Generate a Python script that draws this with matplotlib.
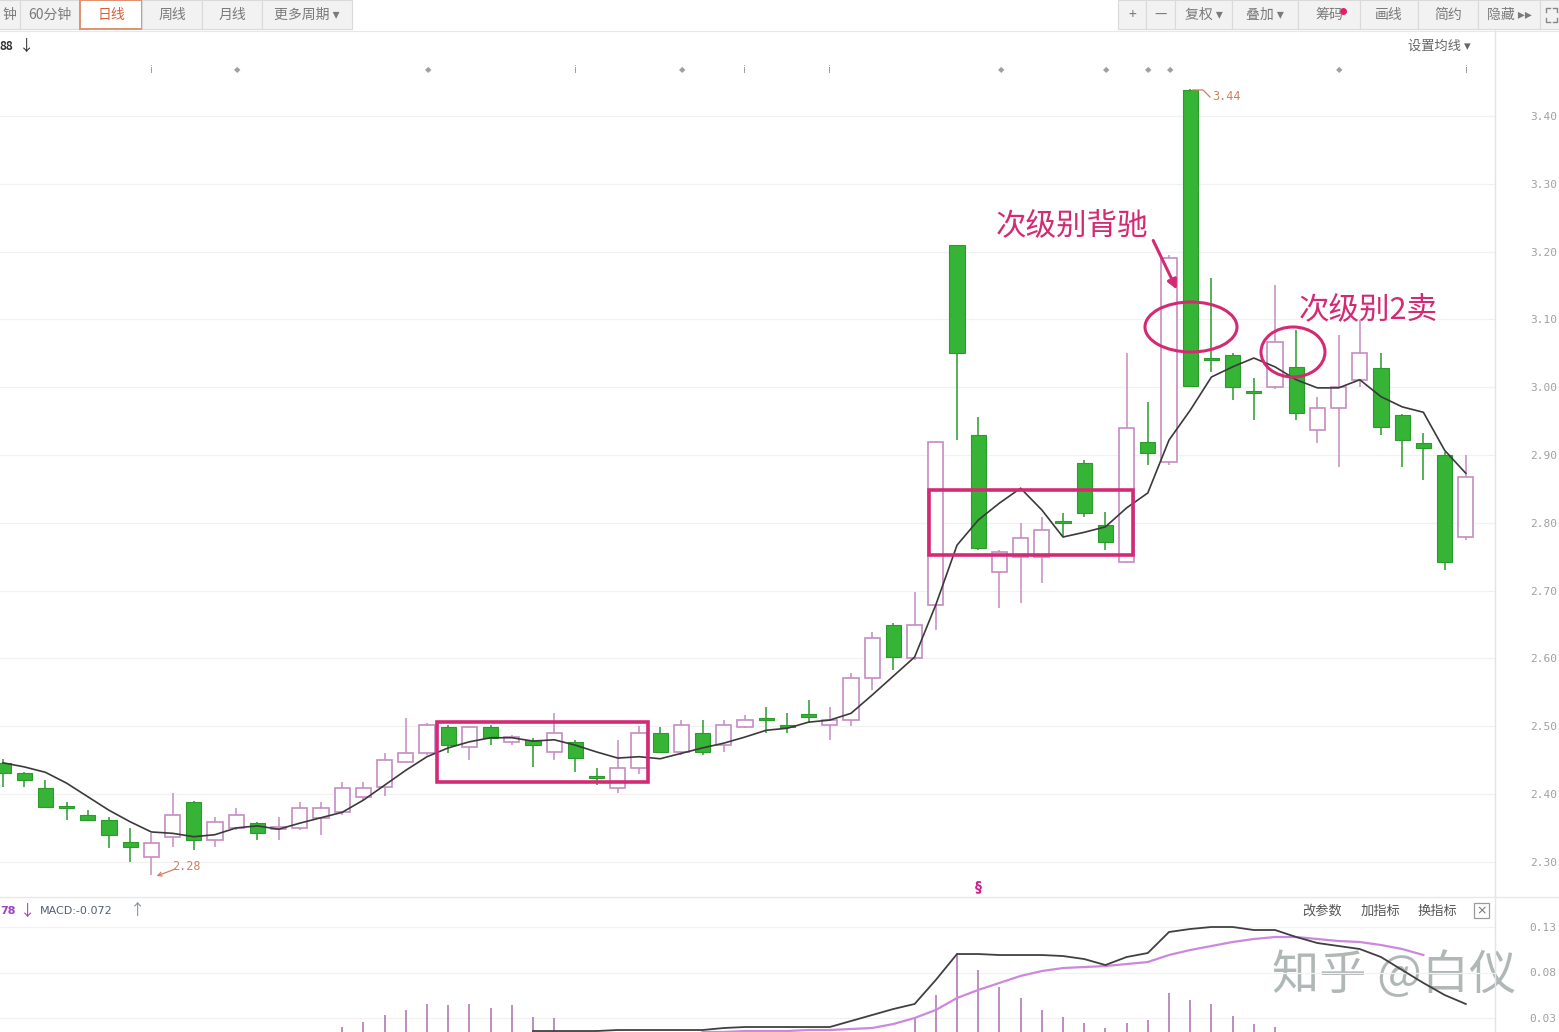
import matplotlib
matplotlib.use('Agg')
import matplotlib.pyplot as plt
from matplotlib.patches import Rectangle, Ellipse, FancyArrowPatch
import numpy as np

plt.rcParams['font.family'] = ['Noto Sans CJK SC', 'DejaVu Sans']

# ---------------- data ----------------
opens = [2.446, 2.431, 2.409, 2.381, 2.369, 2.362, 2.329, 2.307, 2.337, 2.388,
         2.332, 2.350, 2.357, 2.349, 2.350, 2.365, 2.373, 2.396, 2.410, 2.447,
         2.460, 2.499, 2.469, 2.499, 2.477, 2.480, 2.462, 2.477, 2.425, 2.409,
         2.438, 2.490, 2.462, 2.490, 2.472, 2.499, 2.511, 2.500, 2.518, 2.502,
         2.509, 2.571, 2.649, 2.601, 2.679, 3.210, 2.930, 2.727, 2.750, 2.750,
         2.801, 2.888, 2.797, 2.742, 2.919, 2.890, 3.438, 3.041, 3.047, 2.992,
         3.000, 3.030, 2.937, 2.969, 3.011, 3.028, 2.959, 2.918, 2.900, 2.779]
highs = [2.452, 2.433, 2.421, 2.388, 2.376, 2.366, 2.350, 2.343, 2.401, 2.390,
         2.366, 2.379, 2.359, 2.366, 2.388, 2.388, 2.418, 2.418, 2.460, 2.512,
         2.504, 2.502, 2.500, 2.502, 2.487, 2.482, 2.519, 2.480, 2.438, 2.480,
         2.500, 2.499, 2.509, 2.509, 2.509, 2.516, 2.528, 2.519, 2.539, 2.528,
         2.578, 2.639, 2.652, 2.698, 2.920, 3.210, 2.956, 2.760, 2.800, 2.809,
         2.814, 2.892, 2.816, 3.050, 2.978, 3.195, 3.440, 3.161, 3.050, 3.014,
         3.151, 3.085, 2.986, 3.077, 3.099, 3.050, 2.960, 2.932, 2.905, 2.900]
lows = [2.410, 2.410, 2.381, 2.362, 2.360, 2.320, 2.300, 2.280, 2.322, 2.317,
        2.322, 2.347, 2.332, 2.332, 2.347, 2.340, 2.369, 2.391, 2.397, 2.447,
        2.458, 2.460, 2.450, 2.472, 2.472, 2.440, 2.450, 2.432, 2.413, 2.401,
        2.430, 2.460, 2.458, 2.458, 2.462, 2.497, 2.490, 2.490, 2.505, 2.480,
        2.500, 2.553, 2.583, 2.598, 2.642, 2.922, 2.760, 2.674, 2.682, 2.711,
        2.779, 2.808, 2.760, 2.740, 2.885, 2.885, 3.000, 3.022, 2.981, 2.952,
        2.998, 2.952, 2.918, 2.882, 3.000, 2.930, 2.882, 2.863, 2.730, 2.775]
closes = [2.431, 2.421, 2.381, 2.379, 2.362, 2.340, 2.322, 2.328, 2.369, 2.332,
          2.359, 2.369, 2.343, 2.351, 2.379, 2.379, 2.409, 2.409, 2.450, 2.460,
          2.502, 2.472, 2.499, 2.483, 2.484, 2.472, 2.490, 2.453, 2.423, 2.438,
          2.490, 2.462, 2.502, 2.462, 2.502, 2.509, 2.509, 2.499, 2.513, 2.509,
          2.571, 2.630, 2.602, 2.649, 2.919, 3.050, 2.763, 2.757, 2.778, 2.789,
          2.800, 2.814, 2.772, 2.940, 2.903, 3.191, 3.002, 3.040, 3.000, 2.991,
          3.066, 2.962, 2.969, 3.000, 3.050, 2.941, 2.922, 2.910, 2.742, 2.868]
ma5 = [2.446, 2.440, 2.432, 2.416, 2.396, 2.376, 2.359, 2.344, 2.342, 2.337,
       2.340, 2.350, 2.353, 2.348, 2.357, 2.365, 2.373, 2.391, 2.413, 2.435,
       2.455, 2.468, 2.477, 2.483, 2.483, 2.478, 2.480, 2.472, 2.462, 2.453,
       2.455, 2.452, 2.460, 2.468, 2.475, 2.484, 2.494, 2.497, 2.506, 2.509,
       2.519, 2.546, 2.574, 2.602, 2.679, 2.767, 2.804, 2.829, 2.851, 2.819,
       2.779, 2.786, 2.794, 2.822, 2.844, 2.922, 2.966, 3.015, 3.030, 3.043,
       3.030, 3.011, 2.999, 2.999, 3.011, 2.986, 2.971, 2.963, 2.907, 2.873]

dif_start = 25
dif = [0.0157, 0.0157, 0.0157, 0.0157, 0.0168, 0.0168, 0.0168, 0.0168, 0.0168, 0.0190,
       0.0201, 0.0201, 0.0201, 0.0201, 0.0201, 0.0267, 0.0333, 0.0399, 0.0454, 0.0718,
       0.1003, 0.1003, 0.0992, 0.0992, 0.0992, 0.0981, 0.0948, 0.0882, 0.0970, 0.1014,
       0.1245, 0.1278, 0.1300, 0.1300, 0.1267, 0.1267, 0.1190, 0.1124, 0.1091, 0.1058,
       0.0970, 0.0827, 0.0685, 0.0553, 0.0454]
dea_start = 33
dea = [0.0146, 0.0146, 0.0157, 0.0157, 0.0157, 0.0168, 0.0168, 0.0179, 0.0190, 0.0234,
       0.0300, 0.0388, 0.0520, 0.0608, 0.0685, 0.0762, 0.0816, 0.0849, 0.0860, 0.0871,
       0.0893, 0.0915, 0.0992, 0.1047, 0.1091, 0.1135, 0.1168, 0.1190, 0.1190, 0.1168,
       0.1146, 0.1135, 0.1102, 0.1058, 0.0992]
hist_idx = [16, 17, 18, 19, 20, 21, 22, 23, 24, 25, 26,
            43, 44, 45, 46, 47, 48, 49, 50, 51, 52, 53, 54, 55, 56, 57, 58, 59, 60]
hist_val = [0.0201, 0.0256, 0.0333, 0.0388, 0.0454, 0.0443, 0.0454, 0.0410, 0.0443, 0.0311, 0.0300,
            0.0300, 0.0553, 0.1014, 0.0827, 0.0641, 0.0520, 0.0388, 0.0311, 0.0245, 0.0190,
            0.0245, 0.0278, 0.0575, 0.0498, 0.0454, 0.0322, 0.0234, 0.0201]

price_ticks = [2.30, 2.40, 2.50, 2.60, 2.70, 2.80, 2.90, 3.00, 3.10, 3.20, 3.30, 3.40]
macd_ticks = [0.03, 0.08, 0.13]

# ---------------- layout ----------------
W, H = 1559, 1032
fig = plt.figure(figsize=(W / 100, H / 100), dpi=100)
fig.patch.set_facecolor('white')

X0, DX = 3.0, 21.2            # pixel x of candle 0, pixel spacing
P_REF, Y_REF, PPU = 3.40, 116, 678
M_REF, MY_REF, MPU = 0.13, 927, 910
RIGHT = 1495
MAIN_TOP, MAIN_BOT = 32, 896
MACD_TOP = 898

def p_at(py):
    return P_REF - (py - Y_REF) / PPU

def m_at(py):
    return M_REF - (py - MY_REF) / MPU

ax = fig.add_axes([0, 1 - MAIN_BOT / H, RIGHT / W, (MAIN_BOT - MAIN_TOP) / H])
ax.set_xlim(-X0 / DX, (RIGHT - X0) / DX)
ax.set_ylim(p_at(MAIN_BOT), p_at(MAIN_TOP))

ax2 = fig.add_axes([0, 0, RIGHT / W, (H - MACD_TOP) / H])
ax2.set_xlim(-X0 / DX, (RIGHT - X0) / DX)
ax2.set_ylim(m_at(H), m_at(MACD_TOP))

for a in (ax, ax2):
    a.patch.set_alpha(0)
    for s in a.spines.values():
        s.set_visible(False)
    a.set_xticks([])
    a.yaxis.tick_right()
    a.tick_params(axis='y', length=0, pad=25, labelsize=8, labelcolor='#a0a0a0')
    a.grid(axis='y', color='#f1f1f1', lw=0.9)
    a.set_axisbelow(True)

ax.set_yticks(price_ticks)
ax.set_yticklabels([f'{t:.2f}' for t in price_ticks], family='DejaVu Sans Mono')
ax2.set_yticks(macd_ticks)
ax2.set_yticklabels([f'{t:.2f}' for t in macd_ticks], family='DejaVu Sans Mono')

# watermark (beneath the MACD lines)
fig.text(1272 / W, 1 - 976 / H, '知乎 @白仪', ha='left', va='center', fontsize=34,
         color='#a3abab', alpha=0.85, zorder=-1)

# ---------------- candles ----------------
UP_EDGE = '#c58cc4'
DN_FILL = '#36b436'
DN_EDGE = '#2b9b2b'
n = len(closes)
idx = np.arange(n)
o = np.array(opens); h = np.array(highs); l = np.array(lows); c = np.array(closes)
up = c >= o
bw = 0.72
ax.vlines(idx[up], l[up], h[up], color=UP_EDGE, lw=1.1, zorder=2)
ax.vlines(idx[~up], l[~up], h[~up], color=DN_EDGE, lw=1.1, zorder=2)
body_lo = np.minimum(o, c)
body_h = np.maximum(np.abs(c - o), 0.003)
ax.bar(idx[up], body_h[up], bottom=body_lo[up], width=bw, facecolor='white',
       edgecolor=UP_EDGE, lw=1.2, zorder=3)
ax.bar(idx[~up], body_h[~up], bottom=body_lo[~up], width=bw, facecolor=DN_FILL,
       edgecolor=DN_EDGE, lw=0.8, zorder=3)
ax.plot(idx, ma5, color='#3a3a3a', lw=1.2, zorder=4)

# ---------------- MACD ----------------
ax2.vlines(hist_idx, 0, hist_val, color='#b07ab4', lw=1.2, zorder=2)
ax2.plot(np.arange(dea_start, dea_start + len(dea)), dea, color='#cc88dd', lw=1.6, zorder=3)
ax2.plot(np.arange(dif_start, dif_start + len(dif)), dif, color='#404040', lw=1.3, zorder=4)

# ---------------- overlay in pixel coordinates ----------------
ov = fig.add_axes([0, 0, 1, 1], zorder=10)
ov.set_xlim(0, W)
ov.set_ylim(H, 0)
ov.axis('off')
ov.patch.set_alpha(0)

# separators
ov.plot([RIGHT, RIGHT], [30, H], color='#e4e4e4', lw=1)
ov.plot([0, W], [897, 897], color='#e8e8e8', lw=1)
ov.plot([0, W], [31, 31], color='#e8e8e8', lw=0.8)

# toolbar
left_btns = [('钟', -20, 20), ('60分钟', 20, 80), ('日线', 80, 142), ('周线', 142, 202),
             ('月线', 202, 262), ('更多周期 ▾', 262, 352)]
right_btns = [('+', 1118, 1146), ('—', 1146, 1175), ('复权 ▾', 1175, 1232), ('叠加 ▾', 1232, 1298),
              ('筹码', 1298, 1360), ('画线', 1360, 1418), ('简约', 1418, 1478),
              ('隐藏 ▸▸', 1478, 1540), ('', 1540, 1575)]
for lab, x0, x1 in left_btns + right_btns:
    sel = lab == '日线'
    ov.add_patch(Rectangle((x0, 0), x1 - x0, 29, facecolor='white' if sel else '#f2f2f2',
                           edgecolor='#e09070' if sel else '#dadada', lw=1.4 if sel else 0.8))
    if lab == '钟':
        ov.text(2, 15, lab, ha='left', va='center', fontsize=10, color='#7a7a7a')
    elif lab:
        ov.text((x0 + x1) / 2, 15, lab, ha='center', va='center', fontsize=10,
                color='#d8603a' if sel else '#7a7a7a')
ov.plot([1343], [11], marker='o', ms=4, color='#e0206a')
# fullscreen icon (corner brackets)
for cx, cy, dx, dy in [(1546, 8, 1, 1), (1557, 8, -1, 1), (1546, 22, 1, -1), (1557, 22, -1, -1)]:
    ov.plot([cx + 4 * dx, cx, cx], [cy, cy, cy + 4 * dy], color='#888888', lw=1)

ov.text(0, 46, '88', ha='left', va='center', fontsize=8.5, color='#333333', fontweight='bold')
ov.text(27, 46, '↓', ha='center', va='center', fontsize=11, color='#333333')
ov.text(1408, 46, '设置均线 ▾', ha='left', va='center', fontsize=9.5, color='#666666')

markers = [(152, 'i'), (237, '◆'), (428, '◆'), (576, 'i'), (682, '◆'), (745, 'i'), (830, 'i'),
           (1001, '◆'), (1106, '◆'), (1148, '◆'), (1170, '◆'), (1339, '◆'), (1467, 'i')]
for mx, mk in markers:
    ov.text(mx, 70, mk, ha='center', va='center', fontsize=6 if mk == '◆' else 7.5,
            color='#a0a0a0', family='DejaVu Sans')

# max / min labels
ov.plot([1193, 1203, 1210], [90, 90, 97], color='#d0805a', lw=0.9)
ov.text(1212, 97, '3.44', ha='left', va='center', fontsize=8.5, color='#d08060', family='DejaVu Sans Mono')
ov.add_patch(FancyArrowPatch((178, 868), (154, 877), arrowstyle='->', mutation_scale=7,
                             color='#d08060', lw=0.9))
ov.text(172, 866, '2.28', ha='left', va='center', fontsize=8.5, color='#d08060', family='DejaVu Sans Mono')
ov.text(978, 886, '§', ha='center', va='center', fontsize=10, color='#cc1f8a', fontweight='bold',
        family='DejaVu Sans')

# annotations
PINK = '#d42a74'
ov.add_patch(Rectangle((437, 722), 211, 60, fill=False, edgecolor=PINK, lw=2.6))
ov.add_patch(Rectangle((929, 490), 204, 65, fill=False, edgecolor=PINK, lw=2.6))
ov.add_patch(Ellipse((1191, 327), 92, 50, fill=False, edgecolor=PINK, lw=2.2))
ov.add_patch(Ellipse((1293, 352), 64, 50, fill=False, edgecolor=PINK, lw=2.2))
ov.add_patch(FancyArrowPatch((1152, 238), (1178, 292), arrowstyle='-|>', mutation_scale=14,
                             color=PINK, lw=2.2))
ov.text(996, 226, '次级别背驰', ha='left', va='center', fontsize=22, color=PINK)
ov.text(1299, 310, '次级别2卖', ha='left', va='center', fontsize=22, color=PINK)

# MACD header
ov.text(0, 911, '78', ha='left', va='center', fontsize=8, color='#a040c0', fontweight='bold',
        family='DejaVu Sans')
ov.text(28, 911, '↓', ha='center', va='center', fontsize=11, color='#a040c0')
ov.text(40, 911, 'MACD:-0.072', ha='left', va='center', fontsize=8, color='#506070',
        family='DejaVu Sans')
ov.text(138, 911, '↑', ha='center', va='center', fontsize=11, color='#8090a0')
for lab, tx in [('改参数', 1322), ('加指标', 1380), ('换指标', 1437)]:
    ov.text(tx, 911, lab, ha='center', va='center', fontsize=9.5, color='#555555')
ov.add_patch(Rectangle((1474, 903), 15, 15, fill=False, edgecolor='#999999', lw=0.9))
ov.text(1481.5, 910.5, '×', ha='center', va='center', fontsize=9, color='#777777',
        family='DejaVu Sans')

fig.savefig('out.png', dpi=100, facecolor='white')
